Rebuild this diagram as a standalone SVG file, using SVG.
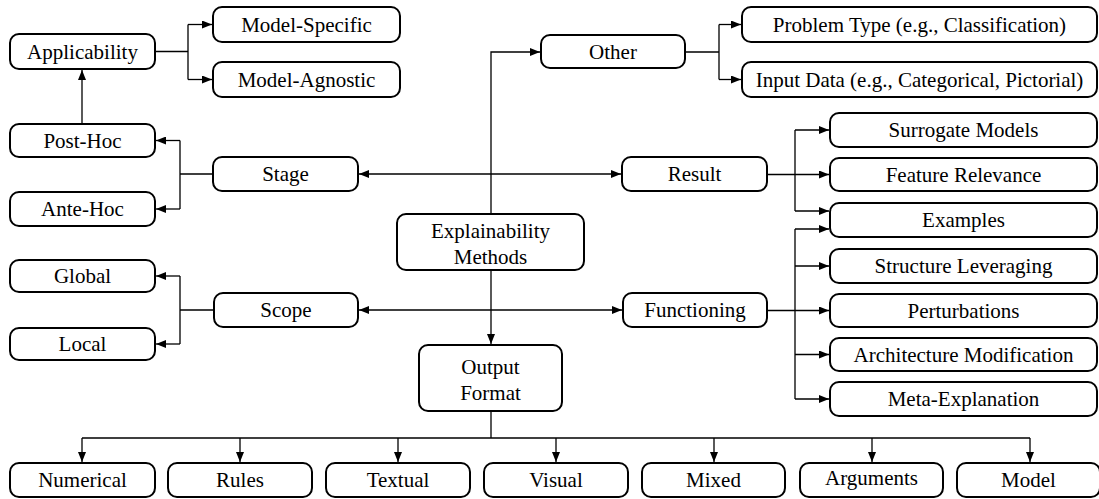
<svg xmlns="http://www.w3.org/2000/svg" width="1099" height="499" viewBox="0 0 1099 499">
<style>
.n rect{fill:#fff;stroke:#000;stroke-width:2;}
.n text{fill:#000;text-anchor:middle;}
.c path{fill:none;stroke:#000;stroke-width:1.3;}
</style>
<defs>
<marker id="a" viewBox="0 0 10 8" refX="10" refY="4" markerWidth="10" markerHeight="8" markerUnits="userSpaceOnUse" orient="auto-start-reverse">
<path d="M0,0 L10,4 L0,8 Z" fill="#000"/>
</marker>
</defs>
<rect width="1099" height="499" fill="#fff"/>
<g class="c">
<path d="M155,51.5 H188 M188,24.5 V79.5"/>
<path d="M188,24.5 H212" marker-end="url(#a)"/>
<path d="M188,79.5 H212" marker-end="url(#a)"/>
<path d="M82,124 V70" marker-end="url(#a)"/>
<path d="M213,174 H180 M180,140.5 V209"/>
<path d="M180,140.5 H156" marker-end="url(#a)"/>
<path d="M180,209 H156" marker-end="url(#a)"/>
<path d="M359,174 H621" marker-start="url(#a)" marker-end="url(#a)"/>
<path d="M359,310 H622" marker-start="url(#a)" marker-end="url(#a)"/>
<path d="M214,310 H180 M180,276 V344"/>
<path d="M180,276 H156" marker-end="url(#a)"/>
<path d="M180,344 H156" marker-end="url(#a)"/>
<path d="M491,214 V52 H540" marker-end="url(#a)"/>
<path d="M685,52 H719 M719,24.5 V79.5"/>
<path d="M719,24.5 H741" marker-end="url(#a)"/>
<path d="M719,79.5 H741" marker-end="url(#a)"/>
<path d="M767,174.5 H795 M795,130 V211"/>
<path d="M795,130 H829" marker-end="url(#a)"/>
<path d="M795,174.5 H829" marker-end="url(#a)"/>
<path d="M795,211 H829" marker-end="url(#a)"/>
<path d="M767,310.5 H795 M795,229 V399"/>
<path d="M795,229 H829" marker-end="url(#a)"/>
<path d="M795,266 H829" marker-end="url(#a)"/>
<path d="M795,310.5 H829" marker-end="url(#a)"/>
<path d="M795,354.5 H829" marker-end="url(#a)"/>
<path d="M795,399 H829" marker-end="url(#a)"/>
<path d="M491,270 V344" marker-end="url(#a)"/>
<path d="M491,411 V438 M82,438 H1030"/>
<path d="M82,438 V462" marker-end="url(#a)"/>
<path d="M240,438 V462" marker-end="url(#a)"/>
<path d="M398,438 V462" marker-end="url(#a)"/>
<path d="M556,438 V462" marker-end="url(#a)"/>
<path d="M714,438 V462" marker-end="url(#a)"/>
<path d="M872,438 V462" marker-end="url(#a)"/>
<path d="M1030,438 V462" marker-end="url(#a)"/>
</g>
<g font-family="Liberation Serif, Times New Roman, serif" font-size="21">
<g id="applicability" class="n"><rect x="10" y="34" width="145" height="35" rx="9"/><text x="82.5" y="58.5">Applicability</text></g>
<g id="model-specific" class="n"><rect x="213" y="7" width="187" height="35" rx="9"/><text x="306.5" y="31.5">Model-Specific</text></g>
<g id="model-agnostic" class="n"><rect x="213" y="62" width="187" height="35" rx="9"/><text x="306.5" y="86.5">Model-Agnostic</text></g>
<g id="post-hoc" class="n"><rect x="10" y="124" width="145" height="33" rx="9"/><text x="82.5" y="147.5">Post-Hoc</text></g>
<g id="ante-hoc" class="n"><rect x="10" y="192" width="145" height="34" rx="9"/><text x="82.5" y="216">Ante-Hoc</text></g>
<g id="stage" class="n"><rect x="213" y="157" width="145" height="34" rx="9"/><text x="285.5" y="181">Stage</text></g>
<g id="other" class="n"><rect x="541" y="35" width="144" height="33" rx="9"/><text x="613" y="59">Other</text></g>
<g id="problem-type" class="n"><rect x="742" y="7" width="355" height="35" rx="9"/><text x="919.5" y="31.5">Problem Type (e.g., Classification)</text></g>
<g id="input-data" class="n"><rect x="742" y="62" width="355" height="35" rx="9"/><text x="919.5" y="86.5">Input Data (e.g., Categorical, Pictorial)</text></g>
<g id="result" class="n"><rect x="622" y="157" width="145" height="34" rx="9"/><text x="694.5" y="181">Result</text></g>
<g id="surrogate-models" class="n"><rect x="830" y="113" width="267" height="34" rx="9"/><text x="963.5" y="137">Surrogate Models</text></g>
<g id="feature-relevance" class="n"><rect x="830" y="158" width="267" height="33" rx="9"/><text x="963.5" y="181.5">Feature Relevance</text></g>
<g id="examples" class="n"><rect x="830" y="203" width="267" height="34" rx="9"/><text x="963.5" y="227">Examples</text></g>
<g id="structure-leveraging" class="n"><rect x="830" y="249" width="267" height="34" rx="9"/><text x="963.5" y="273">Structure Leveraging</text></g>
<g id="perturbations" class="n"><rect x="830" y="294" width="267" height="33" rx="9"/><text x="963.5" y="317.5">Perturbations</text></g>
<g id="architecture-modification" class="n"><rect x="830" y="338" width="267" height="33" rx="9"/><text x="963.5" y="361.5">Architecture Modification</text></g>
<g id="meta-explanation" class="n"><rect x="830" y="382" width="267" height="34" rx="9"/><text x="963.5" y="406">Meta-Explanation</text></g>
<g id="explainability-methods" class="n"><rect x="397" y="214" width="187" height="56" rx="9"/><text x="490.5" y="237.5">Explainability</text><text x="490.5" y="263.5">Methods</text></g>
<g id="global" class="n"><rect x="10" y="260" width="145" height="32" rx="9"/><text x="82.5" y="283">Global</text></g>
<g id="local" class="n"><rect x="10" y="328" width="145" height="32" rx="9"/><text x="82.5" y="351">Local</text></g>
<g id="scope" class="n"><rect x="214" y="293" width="144" height="34" rx="9"/><text x="286" y="317">Scope</text></g>
<g id="functioning" class="n"><rect x="623" y="293" width="144" height="34" rx="9"/><text x="695" y="317">Functioning</text></g>
<g id="output-format" class="n"><rect x="419" y="345" width="143" height="66" rx="9"/><text x="490.5" y="373.5">Output</text><text x="490.5" y="399.5">Format</text></g>
<g id="numerical" class="n"><rect x="10" y="463" width="145" height="34" rx="9"/><text x="82.5" y="487">Numerical</text></g>
<g id="rules" class="n"><rect x="168" y="463" width="144" height="34" rx="9"/><text x="240" y="487">Rules</text></g>
<g id="textual" class="n"><rect x="326" y="463" width="144" height="34" rx="9"/><text x="398" y="487">Textual</text></g>
<g id="visual" class="n"><rect x="484" y="463" width="144" height="34" rx="9"/><text x="556" y="487">Visual</text></g>
<g id="mixed" class="n"><rect x="642" y="463" width="143" height="34" rx="9"/><text x="713.5" y="487">Mixed</text></g>
<g id="arguments" class="n"><rect x="800" y="463" width="143" height="34" rx="9"/><text x="871.5" y="484.5">Arguments</text></g>
<g id="model" class="n"><rect x="957" y="463" width="143" height="34" rx="9"/><text x="1028.5" y="487">Model</text></g>
</g>
</svg>
